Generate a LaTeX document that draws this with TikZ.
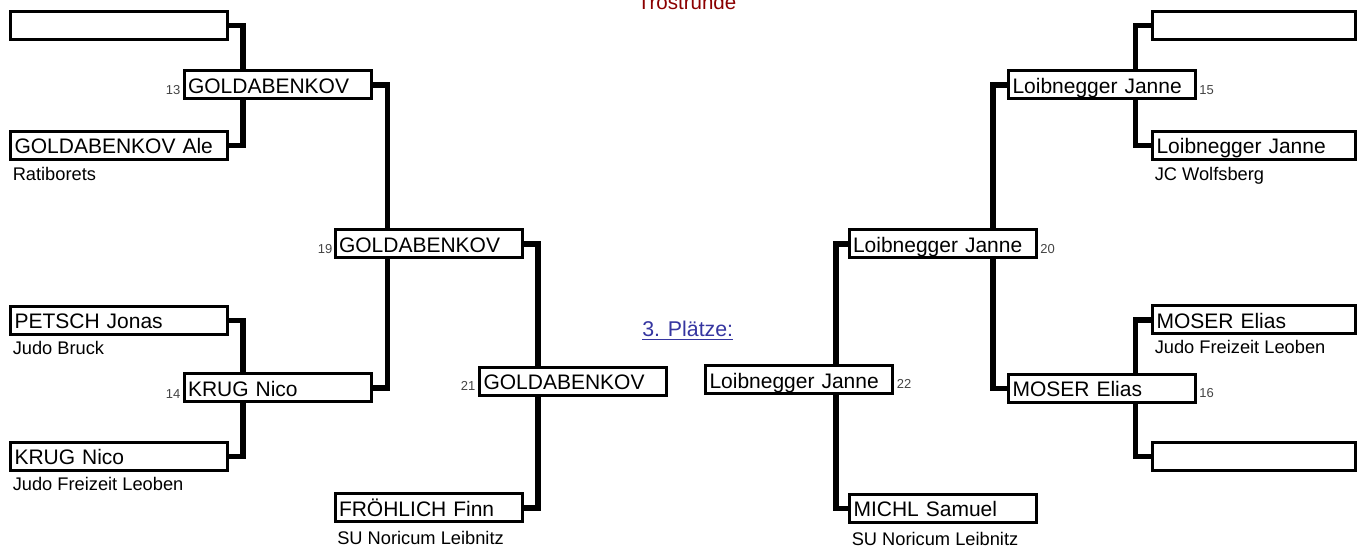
\documentclass[tikz,border=0pt]{standalone}
\usepackage{fontspec}
\setmainfont{Liberation Sans}
\usetikzlibrary{calc}
\definecolor{numgray}{HTML}{444444}
\definecolor{trostred}{HTML}{8B0000}
\definecolor{linkblue}{HTML}{3535A0}
\begin{document}
\begin{tikzpicture}[x=0.75pt,y=-0.75pt,
  box/.style={draw, line width=2.25pt, fill=white, inner xsep=3pt, inner ysep=0pt,
    minimum height=21pt, text width=#1, align=left, text height=13.1pt, text depth=0.4pt,
    font=\fontsize{15.75pt}{18pt}\selectfont, outer sep=0pt},
  box/.default=134.25pt,
  club/.style={anchor=base west, inner sep=0pt, font=\fontsize{13.7pt}{16pt}\selectfont},
  numl/.style={inner sep=0pt, text=numgray, font=\fontsize{9.75pt}{11pt}\selectfont},
  conn/.style={line width=4.1pt, line join=miter}]
\useasboundingbox (0,0) rectangle (1365,548);

% left first round
\node[box=156.75pt] (L1a) at (119,25.5) {};
\node[box=156.75pt] (L1b) at (119,145.5) {GOLDABENKOV Ale};
\node[box=156.75pt] (L2a) at (119,320.5) {PETSCH Jonas};
\node[box=156.75pt] (L2b) at (119,456.5) {KRUG Nico};
\node[club] (c1) at ($(L1b.south west)+(2,21.5)$) {Ratiborets};
\node[club] (c2) at ($(L2a.south west)+(2,20.5)$) {Judo Bruck};
\node[club] (c3) at ($(L2b.south west)+(2,20.5)$) {Judo Freizeit Leoben};

% left later rounds
\node[box] (B13) at (277.5,85) {GOLDABENKOV};
\node[box] (B14) at (277.5,388) {KRUG Nico};
\node[box] (B19) at (428.5,244) {GOLDABENKOV};
\node[box] (B21) at (573,381.5) {GOLDABENKOV};
\node[box] (FR) at (428.5,508) {FRÖHLICH Finn};
\node[club] (c4) at ($(FR.south west)+(2,23)$) {SU Noricum Leibnitz};

\node[numl, anchor=base east] (n13) at ($(B13.south west)+(-3.5,-4.5)$) {13};
\node[numl, anchor=base east] (n14) at ($(B14.south west)+(-3.5,-3)$) {14};
\node[numl, anchor=base east] (n19) at ($(B19.south west)+(-2.5,-4.5)$) {19};
\node[numl, anchor=base east] (n21) at ($(B21.south west)+(-4,-5)$) {21};

% right first round
\node[box=146.25pt] (R1a) at (1254,25.5) {};
\node[box=146.25pt] (R1b) at (1254,145.5) {Loibnegger Janne};
\node[box=146.25pt] (R2a) at (1254,320) {MOSER Elias};
\node[box=146.25pt] (R2b) at (1254,456.5) {};
\node[club] (c5) at ($(R1b.south west)+(2,21)$) {JC Wolfsberg};
\node[club] (c6) at ($(R2a.south west)+(2,20)$) {Judo Freizeit Leoben};

% right later rounds
\node[box] (B15) at (1102,85) {Loibnegger Janne};
\node[box] (B16) at (1102,388.5) {MOSER Elias};
\node[box] (B20) at (942.5,244) {Loibnegger Janne};
\node[box] (B22) at (799,380) {Loibnegger Janne};
\node[box] (MI) at (943,508.5) {MICHL Samuel};
\node[club] (c7) at ($(MI.south west)+(2,23)$) {SU Noricum Leibnitz};

\node[numl, anchor=base west] (n15) at ($(B15.south east)+(3.5,-4.5)$) {15};
\node[numl, anchor=base west] (n16) at ($(B16.south east)+(3.5,-4.5)$) {16};
\node[numl, anchor=base west] (n20) at ($(B20.south east)+(4,-4.5)$) {20};
\node[numl, anchor=base west] (n22) at ($(B22.south east)+(4,-5)$) {22};

% titles
\node[anchor=base, inner sep=0pt, text=trostred, font=\fontsize{15.4pt}{18pt}\selectfont] (tr) at (687,9.5) {Trostrunde};
\node[anchor=base west, inner sep=0pt, text=linkblue, font=\fontsize{16pt}{19pt}\selectfont] (pl) at (642,337) {\underline{3. Plätze:}};

% connectors left
\draw[conn] (L1a.east) -| ($(B13.north west)+(59,0)$);
\draw[conn] (L1b.east) -| ($(B13.south west)+(59,0)$);
\draw[conn] (L2a.east) -| ($(B14.north west)+(59,0)$);
\draw[conn] (L2b.east) -| ($(B14.south west)+(59,0)$);
\draw[conn] (B13.east) -| ($(B19.north west)+(52.5,0)$);
\draw[conn] (B14.east) -| ($(B19.south west)+(52.5,0)$);
\draw[conn] (B19.east) -| ($(B21.north west)+(58.5,0)$);
\draw[conn] (FR.east) -| ($(B21.south west)+(58.5,0)$);
% connectors right
\draw[conn] (R1a.west) -| ($(B15.north east)+(-60,0)$);
\draw[conn] (R1b.west) -| ($(B15.south east)+(-60,0)$);
\draw[conn] (R2a.west) -| ($(B16.north east)+(-60,0)$);
\draw[conn] (R2b.west) -| ($(B16.south east)+(-60,0)$);
\draw[conn] (B15.west) -| ($(B20.north east)+(-43,0)$);
\draw[conn] (B16.west) -| ($(B20.south east)+(-43,0)$);
\draw[conn] (B20.west) -| ($(B22.north east)+(-56.5,0)$);
\draw[conn] (MI.west) -| ($(B22.south east)+(-56.5,0)$);
\end{tikzpicture}
\end{document}
